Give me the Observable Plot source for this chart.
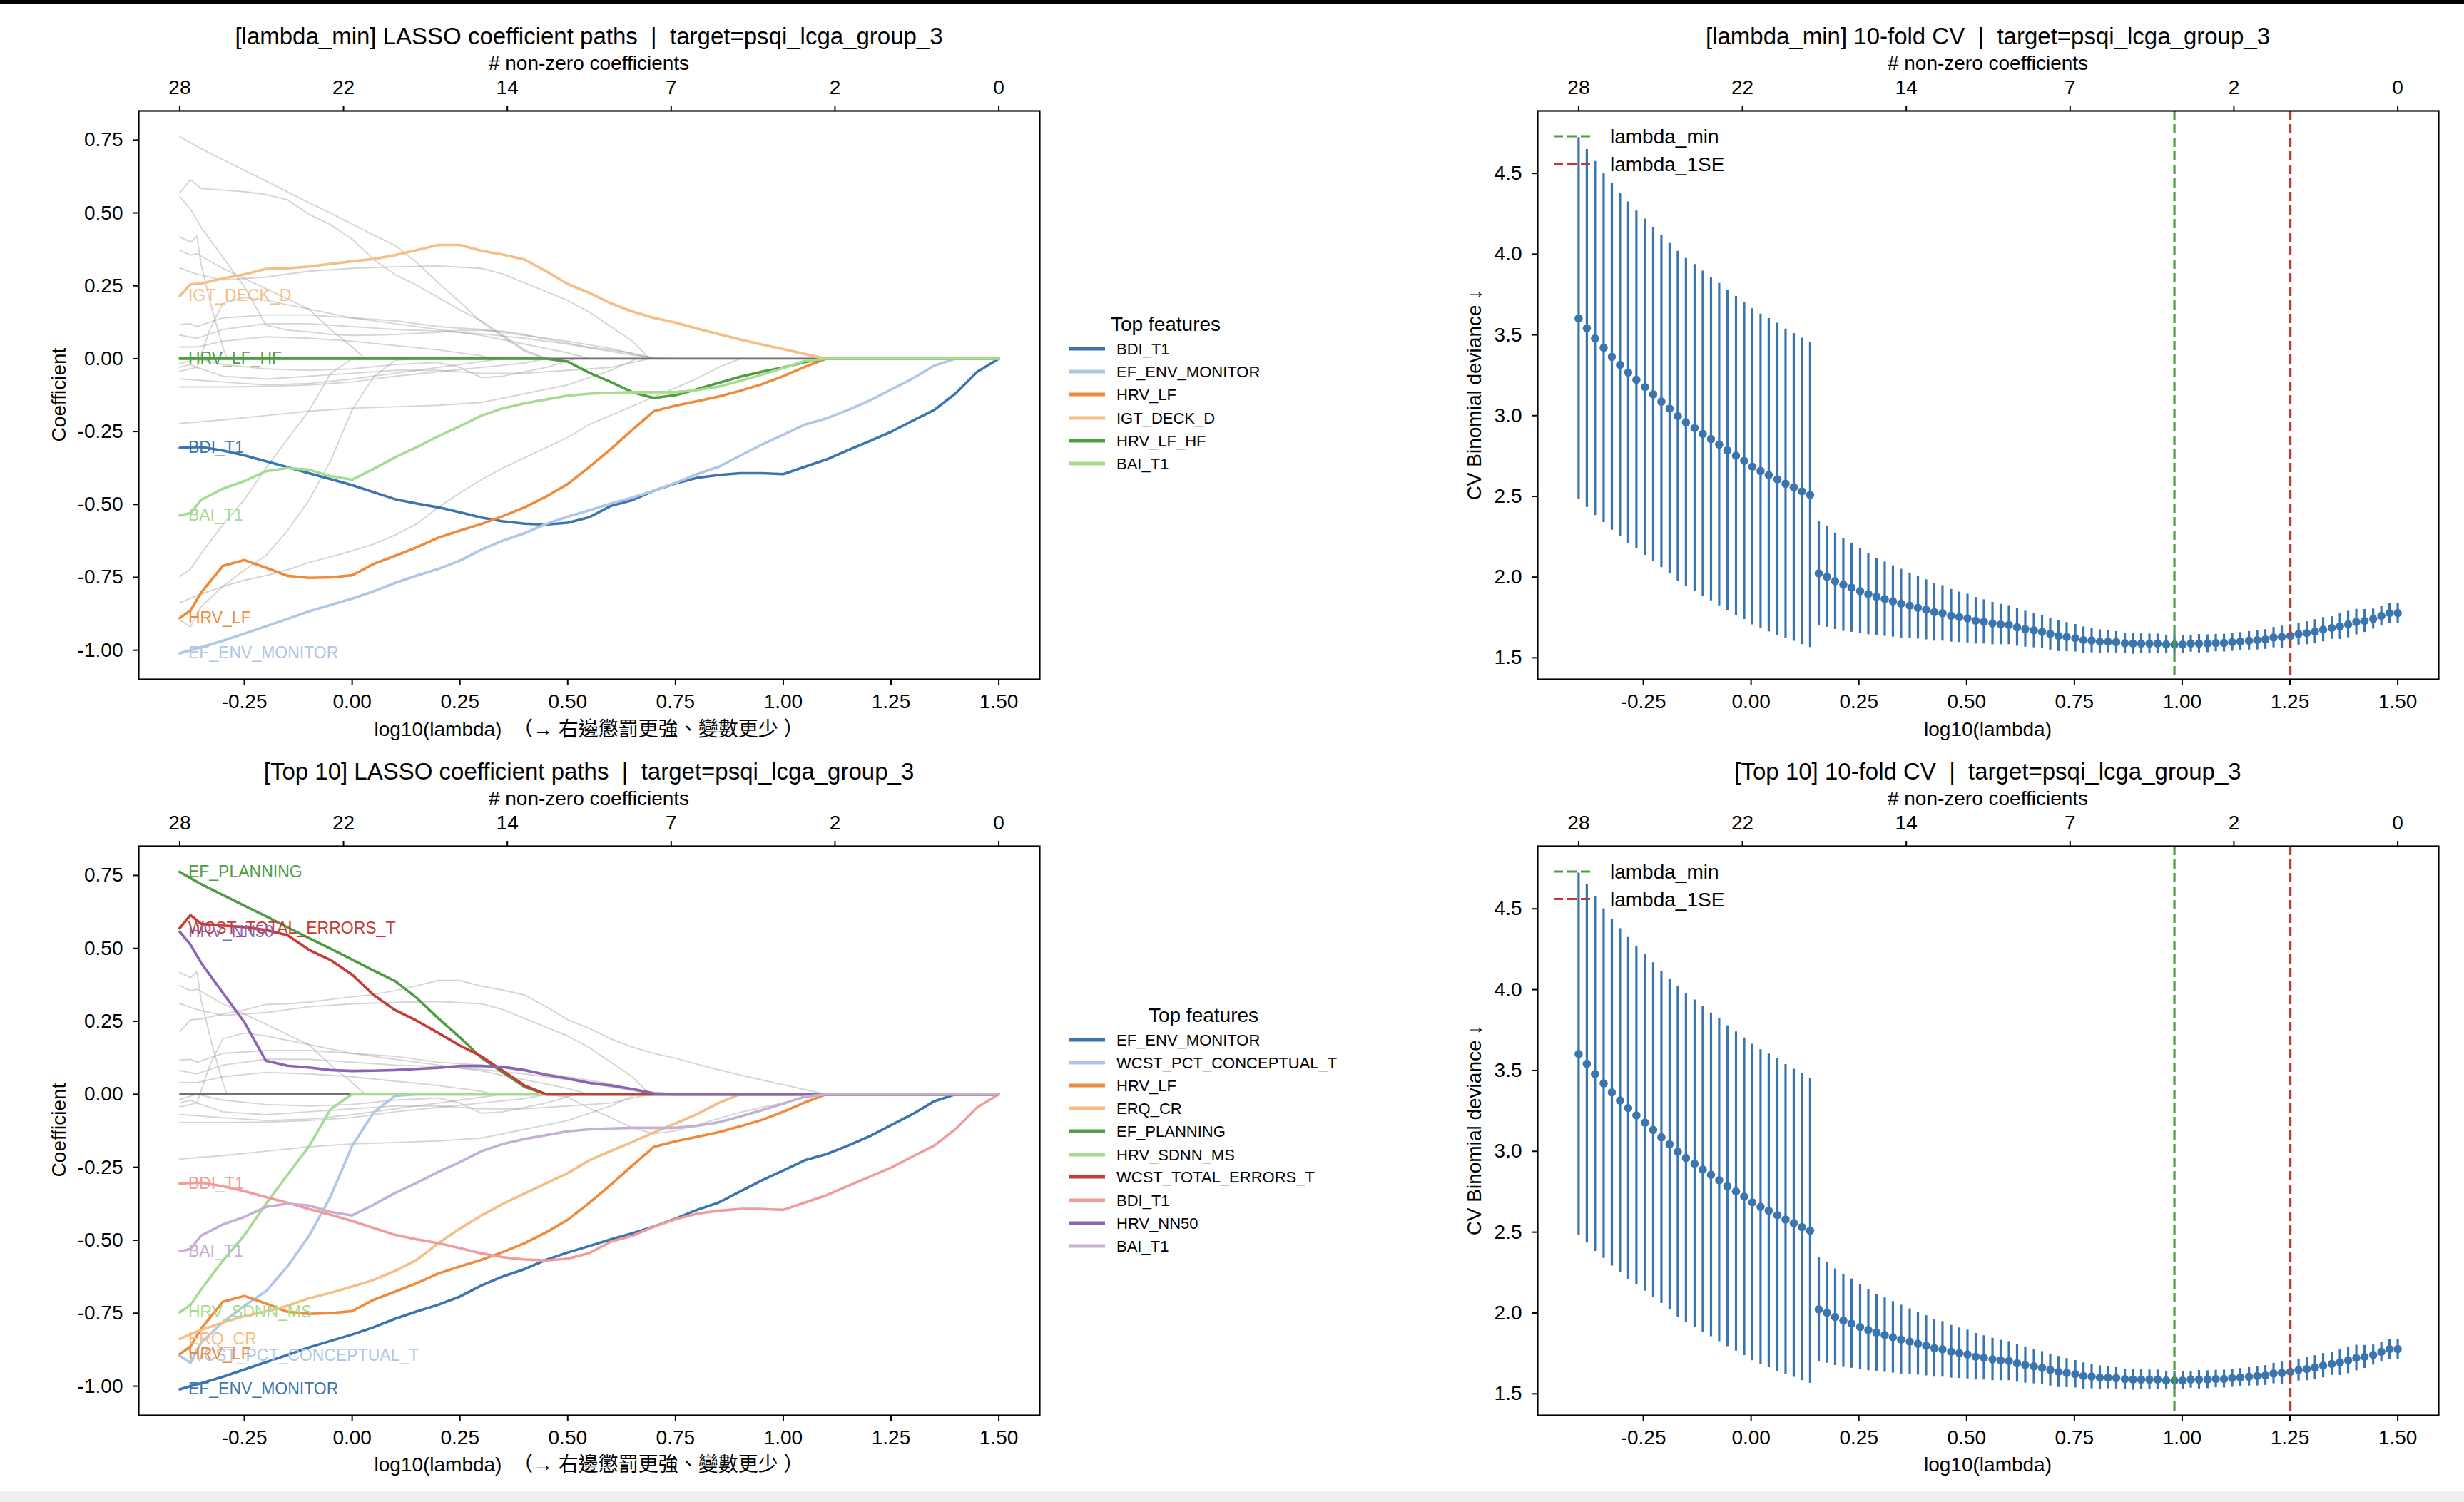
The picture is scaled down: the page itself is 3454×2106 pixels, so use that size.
<!DOCTYPE html>
<html>
<head>
<meta charset="utf-8">
<script src="https://cdn.jsdelivr.net/npm/d3@7"></script>
<script src="https://cdn.jsdelivr.net/npm/@observablehq/plot@0.6"></script>
<style>
html, body { margin: 0; padding: 0; background: #fff; }
#page { position: relative; width: 3454px; height: 2106px; overflow: hidden; background: #fff; }
</style>
</head>
<body>
<div id="page"></div>
<script>
// ---------------- DATA ----------------
// x grid of the CV curve: log10(lambda), 100 values
const logLambda = [-0.400,-0.381,-0.362,-0.342,-0.323,-0.304,-0.285,-0.266,-0.246,-0.227,
-0.208,-0.189,-0.170,-0.151,-0.131,-0.112,-0.093,-0.074,-0.055,-0.035,
-0.016,0.003,0.022,0.041,0.061,0.080,0.099,0.118,0.137,0.157,
0.176,0.195,0.214,0.233,0.253,0.272,0.291,0.310,0.329,0.348,
0.368,0.387,0.406,0.425,0.444,0.464,0.483,0.502,0.521,0.540,
0.560,0.579,0.598,0.617,0.636,0.656,0.675,0.694,0.713,0.732,
0.752,0.771,0.790,0.809,0.828,0.847,0.867,0.886,0.905,0.924,
0.943,0.963,0.982,1.001,1.020,1.039,1.059,1.078,1.097,1.116,
1.135,1.155,1.174,1.193,1.212,1.231,1.251,1.270,1.289,1.308,
1.327,1.347,1.366,1.385,1.404,1.423,1.443,1.462,1.481,1.500];

const cvMean = [3.602,3.541,3.478,3.420,3.364,3.314,3.267,3.222,3.177,3.132,
3.087,3.044,2.997,2.959,2.923,2.887,2.855,2.821,2.785,2.752,
2.720,2.684,2.657,2.632,2.605,2.578,2.556,2.531,2.509,2.023,
2.001,1.975,1.953,1.935,1.913,1.895,1.878,1.864,1.850,1.836,
1.823,1.810,1.798,1.783,1.776,1.761,1.752,1.744,1.730,1.723,
1.713,1.707,1.703,1.689,1.678,1.670,1.661,1.648,1.636,1.629,
1.622,1.610,1.607,1.600,1.600,1.597,1.591,1.588,1.588,1.588,
1.588,1.583,1.582,1.583,1.588,1.588,1.588,1.592,1.592,1.597,
1.601,1.606,1.610,1.614,1.626,1.629,1.636,1.648,1.653,1.663,
1.675,1.685,1.695,1.707,1.722,1.729,1.741,1.760,1.777,1.777];

const cvSE = [1.120,1.108,1.096,1.081,1.073,1.063,1.057,1.046,1.041,1.035,
1.028,1.023,1.021,1.015,1.013,1.008,1.001,0.998,0.992,0.987,
0.982,0.979,0.972,0.970,0.968,0.959,0.953,0.949,0.944,0.322,
0.311,0.299,0.288,0.276,0.263,0.251,0.237,0.230,0.221,0.213,
0.203,0.193,0.186,0.179,0.172,0.163,0.156,0.151,0.144,0.137,
0.131,0.125,0.121,0.116,0.111,0.107,0.101,0.099,0.096,0.090,
0.085,0.082,0.075,0.074,0.068,0.066,0.063,0.065,0.061,0.060,
0.060,0.057,0.054,0.055,0.052,0.057,0.055,0.054,0.055,0.056,
0.056,0.057,0.060,0.061,0.063,0.068,0.070,0.068,0.071,0.074,
0.075,0.070,0.081,0.082,0.079,0.071,0.062,0.059,0.062,0.062];

const lambdaMin = 0.982;
const lambda1SE = 1.251;

// x grid of the coefficient paths (log10 lambda), 40 values
const pathX = [-0.40,-0.375,-0.35,-0.30,-0.25,-0.20,-0.15,-0.10,-0.05,0.00,
0.05,0.10,0.15,0.20,0.25,0.30,0.35,0.40,0.45,0.50,
0.55,0.60,0.65,0.70,0.75,0.80,0.85,0.90,0.95,1.00,
1.05,1.10,1.15,1.20,1.25,1.30,1.35,1.40,1.45,1.50];

const BDI_T1 = [-0.306,-0.304,-0.303,-0.315,-0.332,-0.352,-0.372,-0.393,-0.413,-0.434,
-0.458,-0.482,-0.497,-0.510,-0.527,-0.545,-0.558,-0.566,-0.569,-0.563,
-0.544,-0.505,-0.485,-0.453,-0.428,-0.409,-0.399,-0.393,-0.393,-0.396,
-0.371,-0.346,-0.314,-0.283,-0.251,-0.213,-0.176,-0.119,-0.045,0];
const EF_ENV_MONITOR = [-1.011,-1.000,-0.990,-0.968,-0.943,-0.918,-0.893,-0.867,-0.845,-0.823,
-0.798,-0.769,-0.744,-0.721,-0.693,-0.655,-0.624,-0.599,-0.567,-0.542,
-0.520,-0.497,-0.476,-0.453,-0.426,-0.396,-0.371,-0.333,-0.295,-0.261,
-0.226,-0.205,-0.176,-0.144,-0.106,-0.068,-0.024,0,0,0];
const HRV_LF = [-0.890,-0.864,-0.802,-0.711,-0.691,-0.717,-0.745,-0.752,-0.750,-0.743,
-0.704,-0.676,-0.647,-0.614,-0.590,-0.567,-0.540,-0.510,-0.473,-0.430,
-0.372,-0.310,-0.244,-0.180,-0.161,-0.146,-0.130,-0.110,-0.088,-0.060,
-0.028,0,0,0,0,0,0,0,0,0];
const IGT_DECK_D = [0.215,0.255,0.258,0.275,0.289,0.308,0.310,0.316,0.325,0.334,
0.342,0.355,0.372,0.390,0.390,0.370,0.357,0.340,0.300,0.256,
0.226,0.190,0.162,0.140,0.124,0.103,0.084,0.066,0.049,0.033,
0.016,0,0,0,0,0,0,0,0,0];
const HRV_LF_HF = [0,0,0,0,0,0,0,0,0,0,
0,0,0,0,0,0,0,0,0,-0.010,
-0.048,-0.080,-0.115,-0.135,-0.125,-0.105,-0.083,-0.062,-0.045,-0.030,
-0.012,0,0,0,0,0,0,0,0,0];
const BAI_T1 = [-0.538,-0.530,-0.484,-0.446,-0.420,-0.386,-0.375,-0.381,-0.403,-0.415,
-0.378,-0.338,-0.303,-0.266,-0.232,-0.195,-0.170,-0.153,-0.140,-0.127,
-0.120,-0.117,-0.115,-0.115,-0.115,-0.108,-0.096,-0.076,-0.055,-0.032,
-0.008,0,0,0,0,0,0,0,0,0];
const WCST_PCT_CONCEPTUAL_T = [-0.896,-0.920,-0.850,-0.781,-0.725,-0.675,-0.590,-0.485,-0.350,-0.176,
-0.062,-0.005,0,0,0,0,0,0,0,0,
0,0,0,0,0,0,0,0,0,0,
0,0,0,0,0,0,0,0,0,0];
const ERQ_CR = [-0.838,-0.822,-0.807,-0.782,-0.760,-0.744,-0.725,-0.699,-0.680,-0.659,
-0.636,-0.605,-0.567,-0.510,-0.460,-0.415,-0.375,-0.340,-0.305,-0.270,
-0.226,-0.194,-0.163,-0.131,-0.100,-0.068,-0.030,0,0,0,
0,0,0,0,0,0,0,0,0,0];
const EF_PLANNING = [0.762,0.741,0.720,0.683,0.646,0.610,0.572,0.535,0.499,0.462,
0.424,0.388,0.330,0.260,0.195,0.125,0.075,0.025,0,0,
0,0,0,0,0,0,0,0,0,0,
0,0,0,0,0,0,0,0,0,0];
const HRV_SDNN_MS = [-0.747,-0.722,-0.668,-0.570,-0.483,-0.375,-0.276,-0.178,-0.051,0,
0,0,0,0,0,0,0,0,0,0,
0,0,0,0,0,0,0,0,0,0,
0,0,0,0,0,0,0,0,0,0];
const WCST_TOTAL_ERRORS_T = [0.569,0.614,0.584,0.578,0.573,0.563,0.545,0.495,0.460,0.410,
0.340,0.288,0.252,0.210,0.167,0.130,0.080,0.030,0,0,
0,0,0,0,0,0,0,0,0,0,
0,0,0,0,0,0,0,0,0,0];
const HRV_NN50 = [0.557,0.513,0.450,0.348,0.247,0.115,0.098,0.092,0.083,0.080,
0.081,0.083,0.087,0.091,0.097,0.097,0.094,0.083,0.067,0.054,
0.039,0.030,0.018,0.003,0,0,0,0,0,0,
0,0,0,0,0,0,0,0,0,0];

// remaining (unlabelled) coefficient paths, as [log10 lambda, coefficient] knots
const greyA = [[-0.40,0.418],[-0.375,0.40],[-0.36,0.42],[-0.35,0.32],[-0.325,0.17],[-0.30,0.04],[-0.29,0]];
const greyB = [[-0.40,0.372],[-0.375,0.355],[-0.36,0.36],[-0.30,0.31],[-0.20,0.24],[-0.10,0.17],[-0.05,0.10],[0.00,0.04],[0.03,0]];
const greyC = [[-0.40,0.311],[-0.36,0.29],[-0.30,0.27],[-0.20,0.28],[-0.10,0.30],[0.00,0.31],[0.10,0.315],[0.20,0.318],[0.30,0.31],[0.35,0.29],[0.40,0.26],[0.50,0.20],[0.55,0.16],[0.60,0.11],[0.65,0.06],[0.69,0]];
const greyD = [[-0.40,0.117],[-0.375,0.12],[-0.36,0.11],[-0.30,0.14],[-0.20,0.15],[-0.10,0.15],[0.00,0.14],[0.10,0.13],[0.20,0.11],[0.30,0.10],[0.40,0.08],[0.50,0.06],[0.60,0.035],[0.70,0]];
const greyE = [[-0.40,0.081],[-0.36,0.07],[-0.30,0.10],[-0.20,0.12],[-0.10,0.12],[0.00,0.11],[0.10,0.10],[0.20,0.095],[0.30,0.085],[0.40,0.07],[0.50,0.05],[0.60,0.025],[0.70,0]];
const greyF = [[-0.40,0.04],[-0.36,0.04],[-0.30,0.06],[-0.20,0.075],[-0.10,0.07],[0.00,0.06],[0.10,0.045],[0.20,0.03],[0.30,0.01],[0.33,0]];
const greyG = [[-0.40,-0.018],[-0.36,0.0],[-0.30,-0.02],[-0.20,-0.035],[-0.10,-0.04],[0.00,-0.035],[0.10,-0.02],[0.20,-0.013],[0.25,-0.03],[0.30,-0.065],[0.35,-0.06],[0.45,-0.03],[0.52,0]];
const greyH = [[-0.40,-0.043],[-0.36,-0.03],[-0.30,-0.06],[-0.20,-0.07],[-0.10,-0.06],[0.00,-0.05],[0.10,-0.04],[0.20,-0.04],[0.30,-0.05],[0.40,-0.05],[0.50,-0.04],[0.60,-0.03],[0.69,0]];
const greyI = [[-0.40,-0.069],[-0.30,-0.08],[-0.20,-0.09],[-0.10,-0.085],[0.00,-0.07],[0.10,-0.05],[0.20,-0.03],[0.30,-0.01],[0.35,0]];
const greyJ = [[-0.40,-0.097],[-0.30,-0.097],[-0.20,-0.095],[-0.10,-0.09],[0.00,-0.08],[0.10,-0.06],[0.20,-0.045],[0.30,-0.03],[0.40,-0.015],[0.45,0]];
const greyK = [[-0.40,-0.222],[-0.30,-0.21],[-0.20,-0.195],[-0.10,-0.18],[0.00,-0.17],[0.10,-0.165],[0.20,-0.16],[0.30,-0.15],[0.40,-0.12],[0.50,-0.09],[0.60,-0.04],[0.66,0]];
const greyL = [[-0.40,-0.03],[-0.375,-0.02],[-0.36,-0.03],[-0.33,0.10],[-0.30,0.19],[-0.25,0.21],[-0.20,0.20],[-0.10,0.17],[0.00,0.14],[0.10,0.12],[0.20,0.10],[0.30,0.08],[0.40,0.05],[0.50,0.02],[0.55,0]];
const otherPaths = [greyA, greyB, greyC, greyD, greyE, greyF, greyG, greyH, greyI, greyJ, greyK, greyL];

// axis ticks
const xTicks = [-0.25, 0.00, 0.25, 0.50, 0.75, 1.00, 1.25, 1.50];
const topTickX = [-0.40, -0.02, 0.36, 0.74, 1.12, 1.50];
const topTickLabels = ["28", "22", "14", "7", "2", "0"];
const coefYTicks = [-1.00, -0.75, -0.50, -0.25, 0.00, 0.25, 0.50, 0.75];
const cvYTicks = [1.5, 2.0, 2.5, 3.0, 3.5, 4.0, 4.5];

// highlighted features (name, colour) in legend order
const topFeatures = [["BDI_T1", "#3b75af"], ["EF_ENV_MONITOR", "#afc7e7"], ["HRV_LF", "#f08a3a"],
  ["IGT_DECK_D", "#f6bd84"], ["HRV_LF_HF", "#4e9d42"], ["BAI_T1", "#a6dc8f"]];
const top10Features = [["EF_ENV_MONITOR", "#3b75af"], ["WCST_PCT_CONCEPTUAL_T", "#afc7e7"], ["HRV_LF", "#f08a3a"],
  ["ERQ_CR", "#f6bd84"], ["EF_PLANNING", "#4e9d42"], ["HRV_SDNN_MS", "#a6dc8f"],
  ["WCST_TOTAL_ERRORS_T", "#c93a33"], ["BDI_T1", "#f29c9a"], ["HRV_NN50", "#8b64b6"], ["BAI_T1", "#c3b0d4"]];
const topGrey = ["EF_PLANNING", "WCST_TOTAL_ERRORS_T", "HRV_NN50", "HRV_SDNN_MS", "WCST_PCT_CONCEPTUAL_T", "ERQ_CR"];
const top10Grey = ["IGT_DECK_D", "HRV_LF_HF"];

const pathOf = {BDI_T1, EF_ENV_MONITOR, HRV_LF, IGT_DECK_D, HRV_LF_HF, BAI_T1, WCST_PCT_CONCEPTUAL_T,
  ERQ_CR, EF_PLANNING, HRV_SDNN_MS, WCST_TOTAL_ERRORS_T, HRV_NN50};

// ---------------- DRAWING ----------------
const FONT = '"Liberation Sans", Arial, "Noto Sans CJK TC", sans-serif';
const CV_BLUE = "#3a75b0", VL_GREEN = "#4c9e3f", VL_RED = "#c8372f";
const page = document.getElementById("page");
const xDomain = [-0.495, 1.595];

function place(el, left, top) {
  el.style.position = "absolute";
  el.style.left = left + "px";
  el.style.top = top + "px";
  page.appendChild(el);
}

function axes(yTicks, yFmt) {
  return [
    Plot.axisX({anchor: "bottom", ticks: xTicks, tickFormat: d => d.toFixed(2), tickSize: 8, tickPadding: 13, strokeWidth: 2, label: null}),
    Plot.axisX({anchor: "top", ticks: topTickX, tickFormat: d => topTickLabels[topTickX.indexOf(d)], tickSize: 8, tickPadding: 16, strokeWidth: 2, label: null}),
    Plot.axisY({anchor: "left", ticks: yTicks, tickFormat: yFmt, tickSize: 8, tickPadding: 14, strokeWidth: 2, label: null}),
    Plot.frame({stroke: "#000", strokeWidth: 2.2})
  ];
}

const plotStyle = {fontFamily: FONT, fontSize: "28px", color: "#000", background: "transparent", overflow: "visible"};

function coefPanel(features, greyNames, top, marginBottom) {
  const greyRows = [];
  otherPaths.forEach((pts, k) => pts.forEach(([x, y]) => greyRows.push({id: "o" + k, x, y})));
  greyNames.forEach(name => pathOf[name].forEach((y, i) => greyRows.push({id: name, x: pathX[i], y})));
  const marks = [
    Plot.line(greyRows, {x: "x", y: "y", z: "id", stroke: "#9a9a9a", strokeOpacity: 0.42, strokeWidth: 1.9}),
    Plot.ruleY([0], {x1: () => pathX[0], x2: () => pathX[pathX.length - 1], stroke: "#707070", strokeWidth: 2.8})
  ];
  features.forEach(([name, color]) => {
    marks.push(Plot.line(pathOf[name].map((y, i) => ({x: pathX[i], y})), {x: "x", y: "y", stroke: color, strokeWidth: 3.6}));
  });
  features.forEach(([name, color]) => {
    marks.push(Plot.text([{x: pathX[0], y: pathOf[name][0], name}], {x: "x", y: "y", text: "name", fill: color, dx: 12, textAnchor: "start", fontSize: 23}));
  });
  marks.push(...axes(coefYTicks, d => d.toFixed(2)));
  const svg = Plot.plot({
    width: 1500, height: 1060, marginLeft: 194, marginRight: 43, marginTop: 155, marginBottom,
    x: {domain: xDomain}, y: {domain: [-1.10, 0.85]},
    style: plotStyle, marks
  });
  place(svg, 0, top);
}

function cvPanel(top, marginBottom) {
  const rows = logLambda.map((x, i) => ({x, m: cvMean[i], lo: cvMean[i] - cvSE[i], hi: cvMean[i] + cvSE[i]}));
  const svg = Plot.plot({
    width: 1554, height: 1060, marginLeft: 255, marginRight: 36, marginTop: 155, marginBottom,
    x: {domain: xDomain}, y: {domain: [1.367, 4.887]},
    style: plotStyle,
    marks: [
      Plot.ruleX(rows, {x: "x", y1: "lo", y2: "hi", stroke: CV_BLUE, strokeWidth: 3.2}),
      Plot.dot(rows, {x: "x", y: "m", r: 5.8, fill: CV_BLUE, stroke: "none"}),
      Plot.ruleX([lambdaMin], {stroke: VL_GREEN, strokeWidth: 3.2, strokeDasharray: "13,6"}),
      Plot.ruleX([lambda1SE], {stroke: VL_RED, strokeWidth: 3.2, strokeDasharray: "13,6"}),
      ...axes(cvYTicks, d => d.toFixed(1))
    ]
  });
  place(svg, 1900, top);
}

coefPanel(topFeatures, topGrey, 0, 108);
cvPanel(0, 108);
coefPanel(top10Features, top10Grey, 1031, 107);
cvPanel(1031, 107);

// ---------------- TEXT, LEGENDS ----------------
const ov = d3.select(page).append("svg")
  .attr("width", 3454).attr("height", 2106)
  .style("position", "absolute").style("left", "0px").style("top", "0px")
  .style("font-family", FONT);

function T(x, y, s, size, opt = {}) {
  const t = ov.append("text").attr("x", x).attr("y", y).attr("font-size", size)
    .attr("text-anchor", opt.anchor || "middle").attr("fill", opt.fill || "#000")
    .style("white-space", "pre").text(s);
  if (opt.rotate) t.attr("transform", `rotate(-90 ${x} ${y})`);
  return t;
}

const leftC = 825.5, rightC = 2786.5;
[[0, "[lambda_min]"], [1031, "[Top 10]"]].forEach(([off, tag]) => {
  T(leftC, 62 + off, `${tag} LASSO coefficient paths  |  target=psqi_lcga_group_3`, 33);
  T(rightC, 62 + off, `${tag} 10-fold CV  |  target=psqi_lcga_group_3`, 33);
  T(leftC, 98 + off, "# non-zero coefficients", 28);
  T(rightC, 98 + off, "# non-zero coefficients", 28);
  T(leftC, 1032 + off, "log10(lambda)  （→ 右邊懲罰更強、變數更少 ）", 28);
  T(rightC, 1032 + off, "log10(lambda)", 28);
  T(92, 553.5 + off, "Coefficient", 28, {rotate: true});
  T(2076, 553.5 + off, "CV Binomial deviance ↓", 28, {rotate: true});
  // CV legend
  [["lambda_min", VL_GREEN, 191], ["lambda_1SE", VL_RED, 229.5]].forEach(([lab, col, y]) => {
    ov.append("line").attr("x1", 2178).attr("x2", 2233).attr("y1", y + off).attr("y2", y + off)
      .attr("stroke", col).attr("stroke-width", 3.2).attr("stroke-dasharray", "13,6");
    T(2257, y + off + 10, lab, 28, {anchor: "start"});
  });
});

function featureLegend(features, titleX, titleY, ys) {
  T(titleX, titleY, "Top features", 28);
  features.forEach(([name, color], i) => {
    ov.append("line").attr("x1", 1499).attr("x2", 1549).attr("y1", ys[i]).attr("y2", ys[i])
      .attr("stroke", color).attr("stroke-width", 4.8);
    T(1565, ys[i] + 8, name, 22, {anchor: "start"});
  });
}
featureLegend(topFeatures, 1634, 464, [489, 521, 553, 586, 618, 650]);
featureLegend(top10Features, 1687, 1433, [1458, 1490, 1522, 1554, 1586, 1619, 1650, 1683, 1715, 1747]);

// screenshot edges
const topBar = document.createElement("div");
topBar.style.cssText = "position:absolute;left:0;top:0;width:3454px;height:6px;background:#000;";
page.appendChild(topBar);
const botBar = document.createElement("div");
botBar.style.cssText = "position:absolute;left:0;top:2090px;width:3454px;height:16px;background:#efefef;border-top:1px solid #dedede;";
page.appendChild(botBar);
</script>
</body>
</html>
